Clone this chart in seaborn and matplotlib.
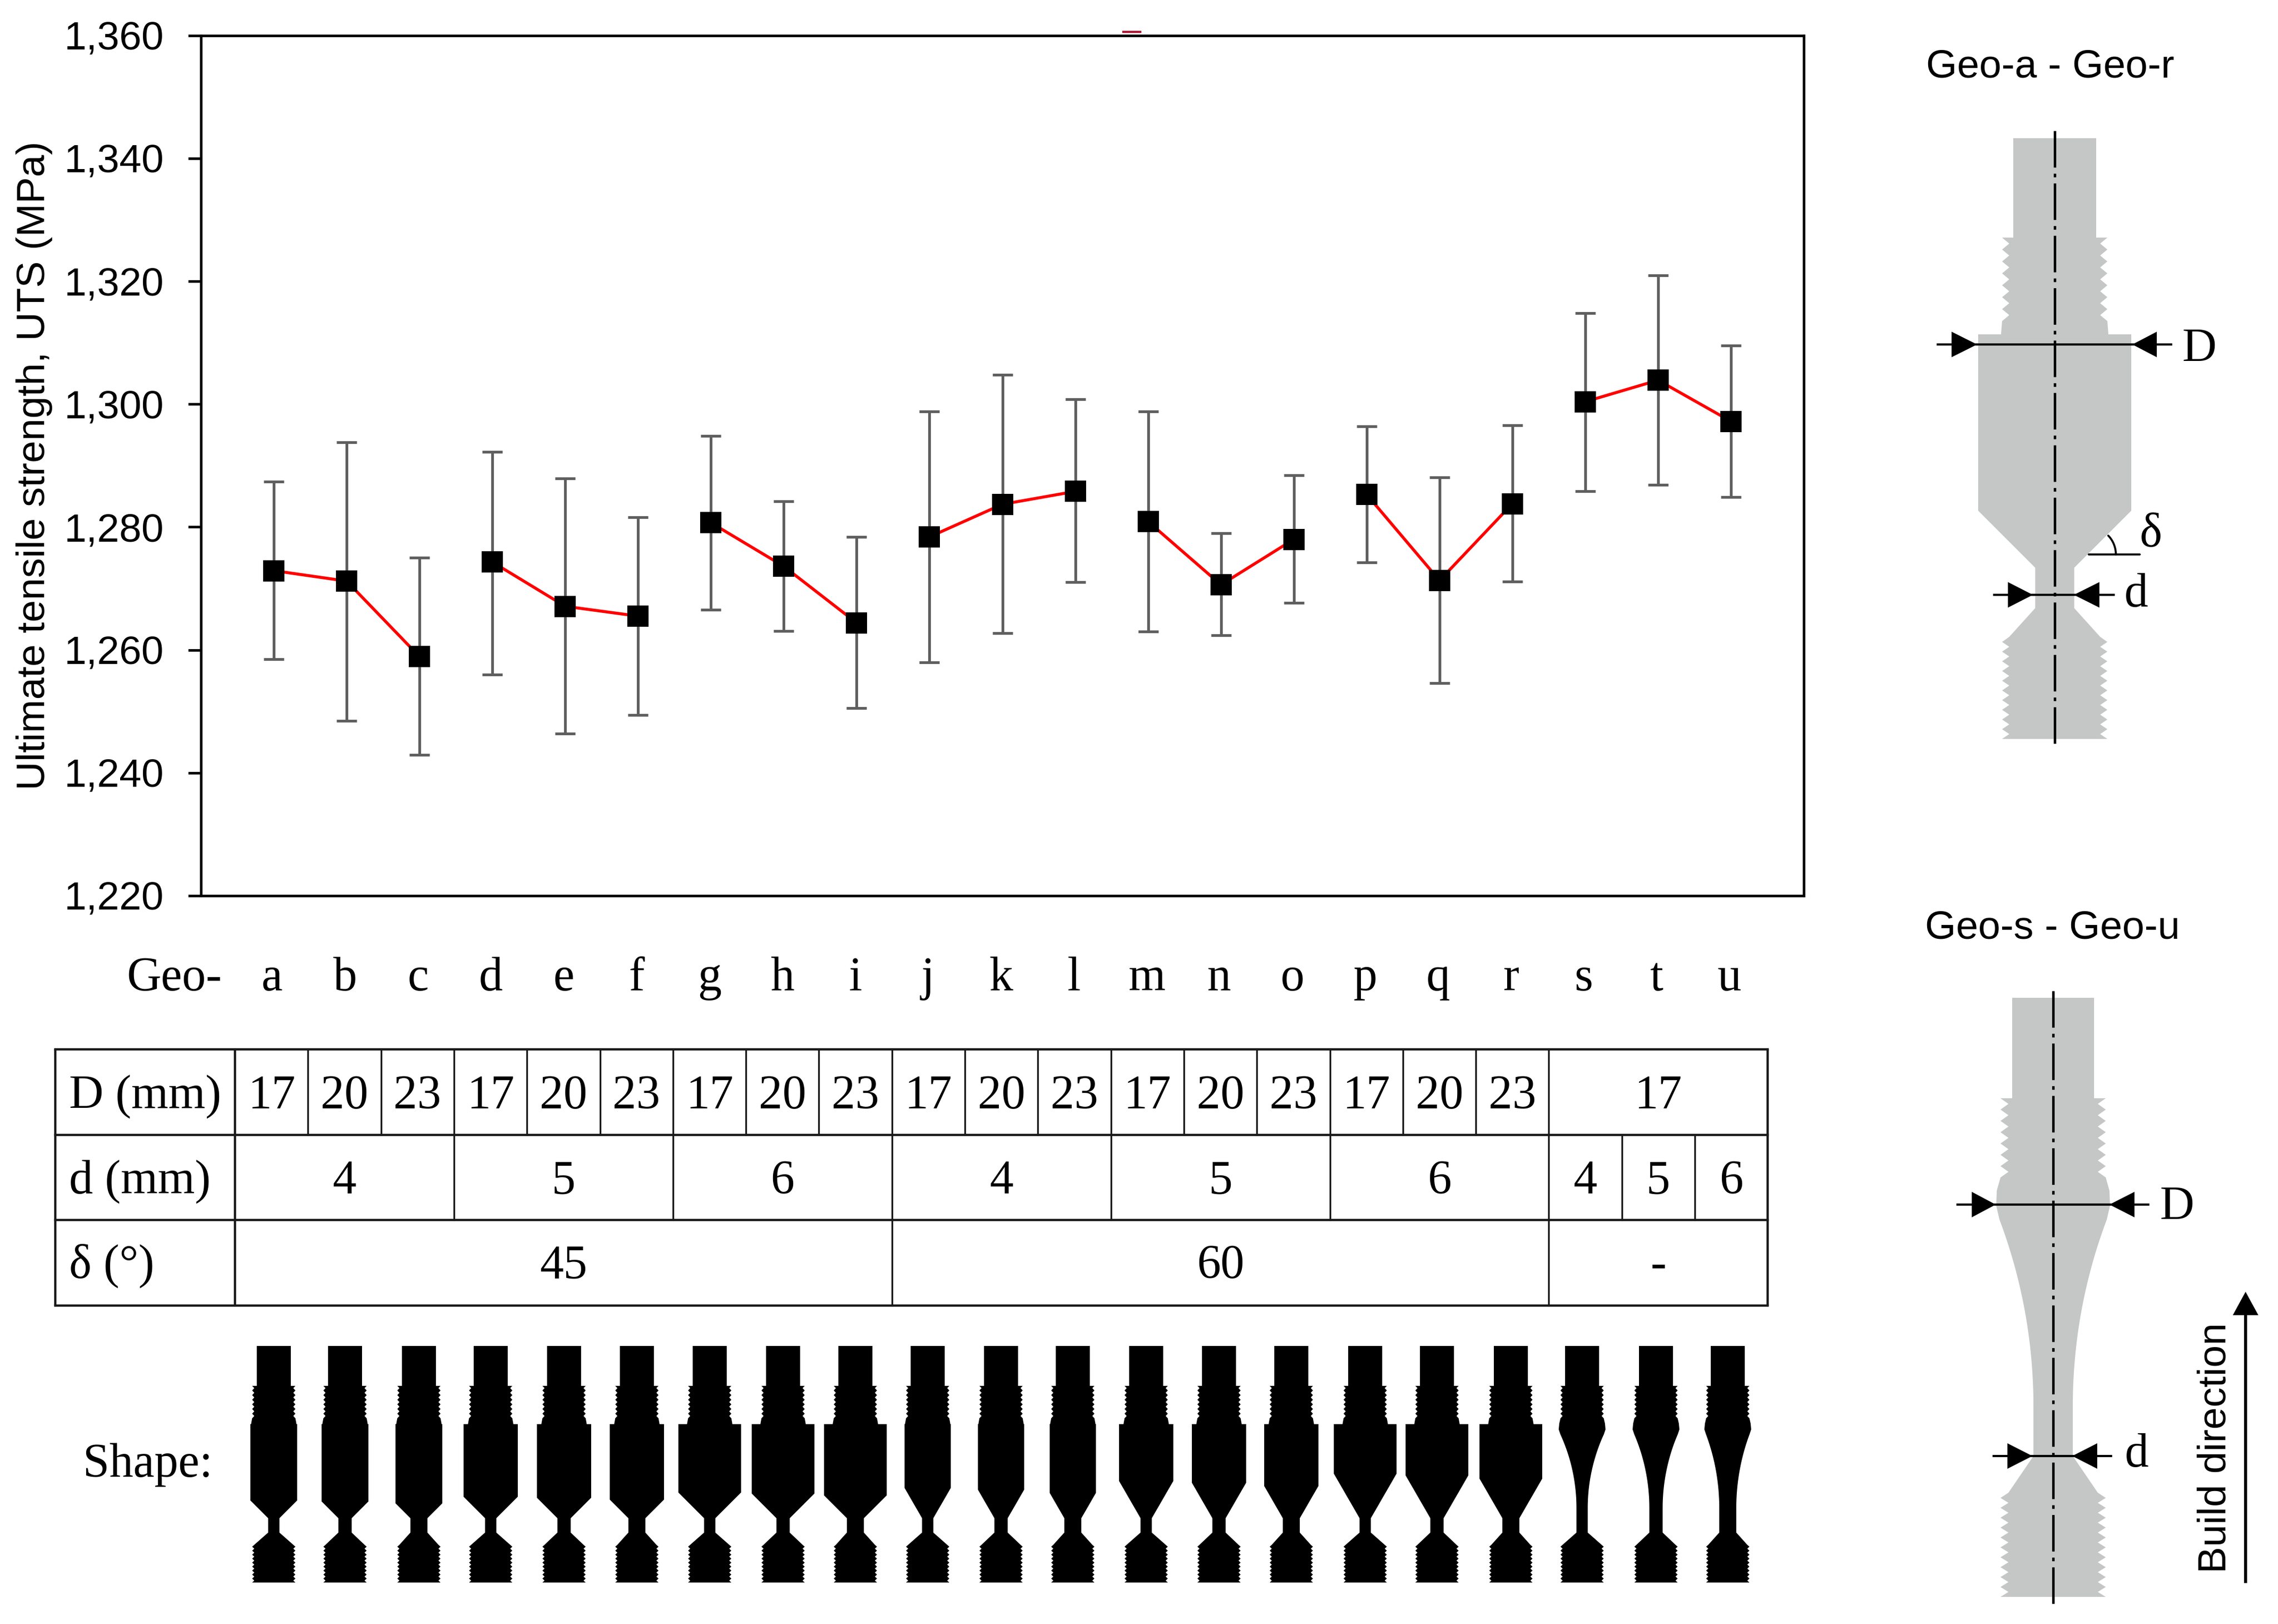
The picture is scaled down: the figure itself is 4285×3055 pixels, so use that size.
import numpy as np
import pandas as pd
import matplotlib
matplotlib.use("Agg")
import matplotlib.pyplot as plt
import seaborn as sns

# valeurs
letters = list("abcdefghijklmnopqrstu")
uts_mean = [1272.9, 1271.2, 1258.9, 1274.3, 1267.1, 1265.5, 1280.7, 1273.6, 1264.4, 1278.4, 1283.7,
            1285.8, 1280.9, 1270.6, 1278.0, 1285.3, 1271.3, 1283.8, 1300.4, 1303.9, 1297.2]
uts_high = [1287.4, 1293.8, 1275.0, 1292.2, 1287.9, 1281.6, 1294.8, 1284.2, 1278.4, 1298.8, 1304.8,
            1300.8, 1298.8, 1279.0, 1288.4, 1296.4, 1288.1, 1296.6, 1314.8, 1321.0, 1309.5]
uts_low = [1258.5, 1248.5, 1242.9, 1256.0, 1246.4, 1249.4, 1266.5, 1263.1, 1250.5, 1258.0, 1262.7,
           1271.0, 1263.0, 1262.4, 1267.7, 1274.2, 1254.6, 1271.1, 1285.8, 1286.9, 1284.9]
groups = [0, 0, 0, 1, 1, 1, 2, 2, 2, 3, 3, 3, 4, 4, 4, 5, 5, 5, 6, 6, 6]
y_ticks = [1220, 1240, 1260, 1280, 1300, 1320, 1340, 1360]

# tableau : (texte, nombre de colonnes)
row_labels = ["D (mm)", "d (mm)", "δ (°)"]
row_D = [("17", 1), ("20", 1), ("23", 1)] * 6 + [("17", 3)]
row_d = [("4", 3), ("5", 3), ("6", 3), ("4", 3), ("5", 3), ("6", 3), ("4", 1), ("5", 1), ("6", 1)]
row_delta = [("45", 9), ("60", 9), ("-", 3)]

# silhouettes noires
shape_x = [515, 649, 788, 923, 1061, 1198, 1335, 1473, 1609, 1745, 1883, 2018,
           2156, 2293, 2429, 2568, 2703, 2842, 2976, 3115, 3250]
shape_D = [44, 44, 44, 51, 51, 51, 59, 59, 59, 43.5, 43.5, 43.5, 51, 51, 51, 59, 59, 59, 44, 44, 44]
shape_d = [10.6, 12.5, 16] * 7
shape_delta = [45] * 9 + [60] * 9 + [0] * 3

W, H = 4285, 3055
SERIF = "Liberation Serif"
SANS = "Liberation Sans"
TXT = 21.5

sns.set_style("ticks")
plt.rcParams["font.family"] = [SANS, "DejaVu Sans"]

fig = plt.figure(figsize=(W / 300, H / 300), dpi=300)
ax = fig.add_axes([378 / W, 1 - 1685 / H, (3393 - 378) / W, (1685 - 66.7) / H])

df = pd.DataFrame({"pos": range(len(letters)), "uts": uts_mean, "group": groups})
ax.errorbar(df["pos"], df["uts"],
            yerr=[np.array(uts_mean) - np.array(uts_low), np.array(uts_high) - np.array(uts_mean)],
            fmt="none", ecolor="#5f5f5f", elinewidth=1.25, capsize=4.5, capthick=1.25, zorder=2)
sns.lineplot(data=df, x="pos", y="uts", units="group", estimator=None, sort=False, color="red",
             linewidth=1.35, marker="s", markersize=9.8, markerfacecolor="black",
             markeredgecolor="black", markeredgewidth=0, zorder=3, ax=ax)
ax.set_xlim(-1, 21)
ax.set_ylim(1220, 1360)
ax.set_xticks([])
ax.set_yticks(y_ticks)
ax.set_yticklabels([f"{v:,}" for v in y_ticks])
ax.tick_params(axis="y", length=5.8, width=1.15, pad=11, labelsize=18, color="black", labelcolor="black")
ax.set_xlabel("")
ax.set_ylabel("Ultimate tensile strength, UTS (MPa)", fontsize=18, color="black", va="center")
ax.yaxis.set_label_coords(-0.104, 0.5)
for s in ax.spines.values():
    s.set_linewidth(1.15)
    s.set_color("black")

# calque en pixels pour le tableau et les schemas
ov = fig.add_axes([0, 0, 1, 1], facecolor="none")
ov.set_xlim(0, W)
ov.set_ylim(H, 0)
ov.axis("off")

ov.plot([2111, 2147], [60, 60], color="#b01030", lw=1.0, solid_capstyle="butt")


def label(x, y, s, ha="center", family=SERIF, size=TXT, **kw):
    ov.text(x, y, s, ha=ha, va="baseline", family=family, fontsize=size, color="black", **kw)


# ligne des lettres
label(238, 1863, "Geo-", ha="left")
for i, c in enumerate(letters):
    label(512 + 137.05 * i, 1863, c)

# tableau
col0, col1, col_w = 104, 442, 137.3
row_y = [1974, 2135, 2295, 2456]
baselines = [2085, 2245, 2404]
right = col1 + 21 * col_w
for y in row_y:
    ov.plot([col0, right], [y, y], color="#1a1a1a", lw=1.05, solid_capstyle="projecting")
for x in [col0, col1, right]:
    ov.plot([x, x], [row_y[0], row_y[-1]], color="#1a1a1a", lw=1.05)
for r, spans in enumerate([row_D, row_d, row_delta]):
    label(130, baselines[r], row_labels[r], ha="left")
    n = 0
    for txt, span in spans:
        label(col1 + (n + span / 2) * col_w, baselines[r], txt)
        n += span
        if n < 21:
            ov.plot([col1 + n * col_w] * 2, [row_y[r], row_y[r + 1]], color="#1a1a1a", lw=0.8)

label(156, 2778, "Shape:", ha="left")


def teeth(y0, y1, inner, outer, n):
    ys = np.linspace(y0, y1, 2 * n + 1)
    hs = [outer if k % 2 == 0 else inner for k in range(2 * n + 1)]
    return list(zip(ys, hs))


def stepped(yy, head, inner, outer, big, neck, delta, n_top=7, n_bot=9):
    # yy : haut, debut filet, fin filet, epaulement, haut col, bas col, debut filet bas, bas
    top, t0, t1, sh, n0, n1, t2, bot = yy
    pts = [(top, head), (t0, head)]
    pts += teeth(t0, t1, inner, outer, n_top)
    pts += [(sh, outer + 2), (sh, big)]
    pts += [(n0 - (big - neck) * np.tan(np.radians(delta)), big), (n0, neck), (n1, neck), (t2, inner)]
    pts += teeth(t2 + (bot - t2) * 0.05, bot, inner, outer, n_bot)
    pts += [(bot, 0)]
    return pts


def flared(yy, head, inner, outer, big, neck, bulge, fillet, n_top=7, n_bot=9):
    # bulge : debut et fin du renflement, fillet : debut du conge, demi-largeur, tangence
    top, t0, t1, n0, n1, t2, bot = yy
    pts = [(top, head), (t0, head)]
    pts += teeth(t0, t1, inner, outer, n_top)
    pts += [(bulge[0], big - 1), (bulge[1], big)]
    fy, fh, ft = fillet
    dy, dh = ft - fy, fh - neck
    R = (dy ** 2 + dh ** 2) / (2 * dh)
    for y in np.linspace(fy, ft, 40):
        pts.append((y, neck + R - np.sqrt(R ** 2 - (ft - y) ** 2)))
    pts += [(n1, neck), (t2, inner)]
    pts += teeth(t2 + (bot - t2) * 0.05, bot, inner, outer, n_bot)
    pts += [(bot, 0)]
    return pts


def draw_shape(cx, pts, color):
    ys = np.array([p[0] for p in pts])
    hs = np.array([p[1] for p in pts])
    xs = np.r_[cx - hs, (cx + hs)[::-1]]
    ov.fill(xs, np.r_[ys, ys[::-1]], color=color, lw=0)


for i, cx in enumerate(shape_x):
    if shape_delta[i] > 0:
        pts = stepped((2532, 2607, 2668, 2679, 2856, 2883, 2906, 2977), 32, 36.7, 40.7,
                      shape_D[i], shape_d[i], shape_delta[i])
    else:
        pts = flared((2532, 2607, 2668, 2856, 2883, 2906, 2977), 32, 36.7, 40.7,
                     shape_D[i], shape_d[i], (2678, 2689), (2698, 41, 2837))
    draw_shape(cx, pts, "black")

GREY = "#c5c6c6"
draw_shape(3865, stepped((260, 447, 604, 629, 1068, 1144, 1198, 1390), 78, 85.5, 99, 144, 36.7, 45, n_top=7, n_bot=10), GREY)
draw_shape(3862, flared((1877, 2066, 2215, 2737, 2739, 2808, 3004), 77, 84, 99, 107, 37,
                        (2240, 2268), (2294, 101, 2645), n_top=7, n_bot=10), GREY)


def dim_line(y, x0, x1, xa, xb, xc, xd, half=24):
    # ligne de cote avec deux fleches (xa->xb et xc->xd)
    ov.plot([x0, x1], [y, y], color="black", lw=1.0, solid_capstyle="butt")
    ov.fill([xa, xb, xa], [y - half, y, y + half], color="black", lw=0)
    ov.fill([xc, xd, xc], [y - half, y, y + half], color="black", lw=0)


dash = (0, (15, 2.5, 1.5, 2.5))
ov.plot([3865, 3865], [246, 1407], color="black", lw=1.1, linestyle=dash)
ov.plot([3862, 3862], [1864, 3022], color="black", lw=1.1, linestyle=dash)

dim_line(648, 3643, 4086, 3671, 3719, 4057, 4011)
dim_line(1119, 3749, 3978, 3777, 3824, 3949, 3901)
dim_line(2266, 3680, 4043, 3709, 3754, 4015, 3968)
dim_line(2739, 3748, 3973, 3776, 3823, 3945, 3898)

# angle delta
ov.plot([3929, 4025], [1043, 1043], color="black", lw=0.9)
a = np.radians(np.linspace(0, 44, 20))
ov.plot(3929 + 51 * np.cos(a), 1043 - 51 * np.sin(a), color="black", lw=0.9)

label(4137, 680, "D")
label(4018, 1141, "d")
label(4046, 1028, "δ")
label(4095, 2294, "D")
label(4019, 2759, "d")

label(3856, 146, "Geo-a - Geo-r", family=SANS, size=18)
label(3861, 1765, "Geo-s - Geo-u", family=SANS, size=18)

# sens de fabrication
ov.plot([4224, 4224], [2978, 2470], color="black", lw=1.35, solid_capstyle="butt")
ov.fill([4200, 4224, 4248], [2474, 2430, 2474], color="black", lw=0)
ov.text(4167, 2724, "Build direction", rotation=90, ha="center", va="center",
        family=SANS, fontsize=18, color="black")

fig.savefig("out.png", dpi=300)
